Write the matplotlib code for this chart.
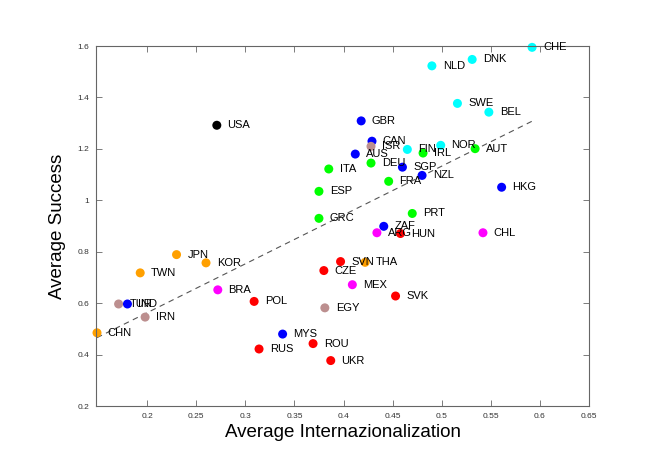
import matplotlib
matplotlib.use('Agg')
import matplotlib.pyplot as plt
from matplotlib.ticker import FuncFormatter

plt.rcParams['font.family'] = ['Liberation Sans', 'DejaVu Sans']

# country codes
countries = ['USA', 'GBR', 'AUS', 'ITA', 'ESP', 'GRC', 'CHE', 'DNK', 'NLD', 'SWE',
             'BEL', 'CAN', 'ISR', 'FIN', 'NOR', 'IRL', 'AUT', 'DEU', 'SGP', 'NZL',
             'FRA', 'HKG', 'PRT', 'ZAF', 'ARG', 'HUN', 'CHL', 'SVN', 'THA', 'MEX',
             'SVK', 'UKR', 'JPN', 'KOR', 'TWN', 'CZE', 'BRA', 'TUR', 'IND', 'POL',
             'EGY', 'IRN', 'CHN', 'MYS', 'ROU', 'RUS']

internationalization = [0.271, 0.418, 0.412, 0.385, 0.375, 0.375, 0.592, 0.531, 0.490, 0.516,
                        0.548, 0.429, 0.428, 0.465, 0.499, 0.481, 0.534, 0.428, 0.460, 0.480,
                        0.446, 0.561, 0.470, 0.441, 0.434, 0.458, 0.542, 0.397, 0.422, 0.409,
                        0.453, 0.387, 0.230, 0.260, 0.193, 0.380, 0.272, 0.171, 0.180, 0.309,
                        0.381, 0.198, 0.149, 0.338, 0.369, 0.314]

success = [1.292, 1.309, 1.180, 1.122, 1.035, 0.930, 1.595, 1.548, 1.523, 1.377,
           1.343, 1.230, 1.210, 1.198, 1.214, 1.184, 1.201, 1.145, 1.129, 1.097,
           1.074, 1.051, 0.949, 0.899, 0.874, 0.871, 0.874, 0.762, 0.759, 0.672,
           0.628, 0.377, 0.789, 0.757, 0.718, 0.727, 0.652, 0.597, 0.597, 0.607,
           0.582, 0.546, 0.485, 0.480, 0.443, 0.422]

# group of each country -> colour
groups = ['k', 'b', 'b', 'g', 'g', 'g', 'c', 'c', 'c', 'c',
          'c', 'b', 'br', 'c', 'c', 'g', 'g', 'g', 'b', 'b',
          'g', 'b', 'g', 'b', 'm', 'r', 'm', 'r', 'o', 'm',
          'r', 'r', 'o', 'o', 'o', 'r', 'm', 'br', 'b', 'r',
          'br', 'br', 'o', 'b', 'r', 'r']

group_colors = {'k': 'black', 'b': '#0000ff', 'g': '#00ff00', 'c': '#00ffff',
                'r': '#ff0000', 'm': '#ff00ff', 'o': '#ffa000', 'br': '#bc8f8f'}

# dashed trend line (slope / intercept)
trend_slope = 1.90
trend_intercept = 0.183

fig = plt.figure(figsize=(6.64, 4.70), dpi=100)
ax = fig.add_axes([0.1446, 0.136, 0.7425, 0.766])

x0, x1 = min(internationalization), max(internationalization)
ax.plot([x0, x1], [trend_intercept + trend_slope * x0, trend_intercept + trend_slope * x1],
        linestyle=(0, (5, 4)), color='#555555', linewidth=0.8, zorder=1)

ax.scatter(internationalization, success, s=42, c=[group_colors[g] for g in groups],
           edgecolors='none', zorder=2, clip_on=False)

for name, xv, yv in zip(countries, internationalization, success):
    ax.text(xv + 0.011, yv, name, fontsize=8, va='center', ha='left', zorder=3)

ax.set_xlim(0.148, 0.65)
ax.set_ylim(0.2, 1.6)
ax.set_xticks([0.2, 0.25, 0.3, 0.35, 0.4, 0.45, 0.5, 0.55, 0.6, 0.65])
ax.set_yticks([0.2, 0.4, 0.6, 0.8, 1.0, 1.2, 1.4, 1.6])
ax.xaxis.set_major_formatter(FuncFormatter(lambda v, p: '%g' % round(v, 2)))
ax.yaxis.set_major_formatter(FuncFormatter(lambda v, p: '%g' % round(v, 2)))
ax.tick_params(direction='in', length=4, width=0.6, labelsize=6, colors='#666666',
               labelcolor='#333333', top=True, right=True, pad=5)
for sp in ax.spines.values():
    sp.set_color('#666666')
    sp.set_linewidth(0.8)

ax.set_xlabel('Average Internazionalization', fontsize=13.5, labelpad=3)
ax.set_ylabel('Average Success', fontsize=13.5, labelpad=8)

fig.savefig('out.png', dpi=100)
